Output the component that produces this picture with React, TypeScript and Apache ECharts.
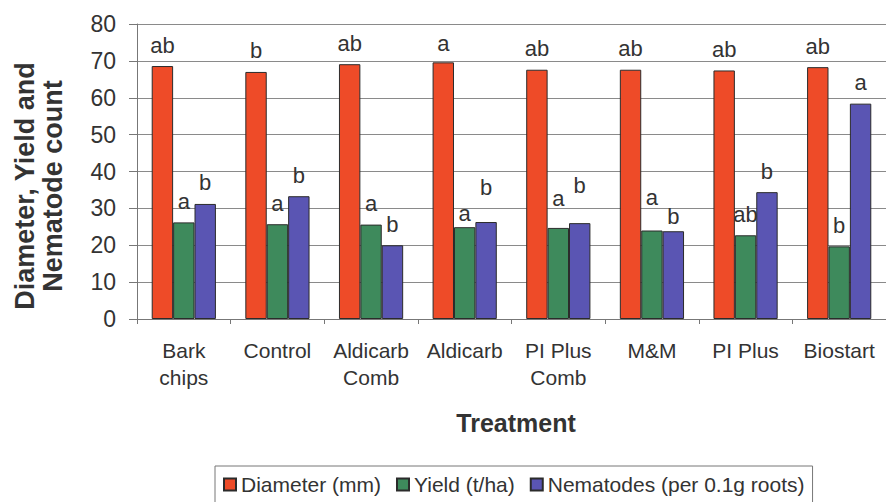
import React, { useEffect, useRef } from "react";
import * as echarts from "echarts";

const categories = ["Bark\nchips", "Control", "Aldicarb\nComb", "Aldicarb", "PI Plus\nComb", "M&M", "PI Plus", "Biostart"];
const diameter = [68.6, 67.0, 69.1, 69.6, 67.6, 67.6, 67.4, 68.3];
const yieldVals = [26.2, 25.7, 25.6, 24.9, 24.7, 24.0, 22.7, 19.7];
const nematodes = [31.2, 33.3, 20.0, 26.3, 26.0, 23.8, 34.4, 58.4];
const diameterLetters = ["ab", "b", "ab", "a", "ab", "ab", "ab", "ab"];
const yieldLetters = ["a", "a", "a", "a", "a", "a", "ab", "b"];
const nematodeLetters = ["b", "b", "b", "b", "b", "b", "b", "a"];
const yTicks = [0, 10, 20, 30, 40, 50, 60, 70, 80];

// extra lift (px) of individual letter labels above their bars
const diameterLift = [0, 0, 0, -2, 0, 0, 0, 0];
const yieldLift = [0, 0, 0, -7, 8, 12, 0, 0];
const nematodeLift = [0, 0, 0, 14, 17, -6, 0, 0];

const FONT = "'Liberation Sans', Arial, Helvetica, sans-serif";

function makeData(values: number[], letters: string[], lift: number[]) {
  return values.map((v, i) => ({
    value: v,
    label: { formatter: letters[i], distance: 10 + lift[i] },
  }));
}

export default function App() {
  const ref = useRef<HTMLDivElement>(null);
  useEffect(() => {
    document.body.style.margin = "0";
    if (!ref.current) return;
    const chart = echarts.init(ref.current, undefined, { renderer: "svg" });
    const labelCfg = {
      show: true,
      position: "top",
      fontSize: 22,
      fontFamily: FONT,
      color: "#333",
    };
    const border = { borderColor: "#2b2b2b", borderWidth: 1 };
    chart.setOption({
      animation: false,
      backgroundColor: "#ffffff",
      grid: { left: 137, top: 24, width: 754, height: 295, containLabel: false },
      legend: {
        left: 215,
        top: 466,
        padding: [8, 8, 8, 8],
        borderColor: "#777",
        borderWidth: 1,
        itemWidth: 12,
        itemHeight: 12,
        itemGap: 15,
        icon: "rect",
        textStyle: { fontSize: 21, fontFamily: FONT, color: "#333" },
        data: ["Diameter (mm)", "Yield (t/ha)", "Nematodes (per 0.1g roots)"],
      },
      xAxis: {
        type: "category",
        data: categories,
        boundaryGap: true,
        axisLine: { lineStyle: { color: "#777", width: 1 } },
        axisTick: { show: true, length: 5, lineStyle: { color: "#777" }, alignWithLabel: false },
        axisLabel: {
          fontSize: 21,
          fontFamily: FONT,
          color: "#333",
          lineHeight: 27,
          margin: 18,
          interval: 0,
        },
      },
      yAxis: {
        type: "value",
        min: yTicks[0],
        max: yTicks[yTicks.length - 1],
        interval: 10,
        axisLine: { show: true, lineStyle: { color: "#777", width: 1 } },
        axisTick: { show: true, length: 8, lineStyle: { color: "#777" } },
        axisLabel: { fontSize: 23, fontFamily: FONT, color: "#333", margin: 21 },
        splitLine: { show: true, lineStyle: { color: "#8a8a8a", width: 1 } },
      },
      graphic: [
        {
          type: "text",
          x: 39,
          y: 186,
          rotation: Math.PI / 2,
          style: {
            text: "Diameter, Yield and\nNematode count",
            fontSize: 27,
            fontWeight: "bold",
            fontFamily: FONT,
            fill: "#333",
            align: "center",
            verticalAlign: "middle",
            lineHeight: 28,
          },
        },
        {
          type: "text",
          x: 516,
          y: 423,
          style: {
            text: "Treatment",
            fontSize: 25,
            fontWeight: "bold",
            fontFamily: FONT,
            fill: "#333",
            align: "center",
            verticalAlign: "middle",
          },
        },
      ],
      series: [
        {
          name: "Diameter (mm)",
          type: "bar",
          barWidth: 21.4,
          barGap: "0%",
          itemStyle: { color: "#EE4B28", ...border },
          label: labelCfg,
          data: makeData(diameter, diameterLetters, diameterLift),
        },
        {
          name: "Yield (t/ha)",
          type: "bar",
          barWidth: 21.4,
          barGap: "0%",
          itemStyle: { color: "#3E8A5C", ...border },
          label: labelCfg,
          data: makeData(yieldVals, yieldLetters, yieldLift),
        },
        {
          name: "Nematodes (per 0.1g roots)",
          type: "bar",
          barWidth: 21.4,
          barGap: "0%",
          itemStyle: { color: "#5A55B3", ...border },
          label: labelCfg,
          data: makeData(nematodes, nematodeLetters, nematodeLift),
        },
      ],
    });
    return () => chart.dispose();
  }, []);
  return <div ref={ref} style={{ width: 886, height: 502 }} />;
}
